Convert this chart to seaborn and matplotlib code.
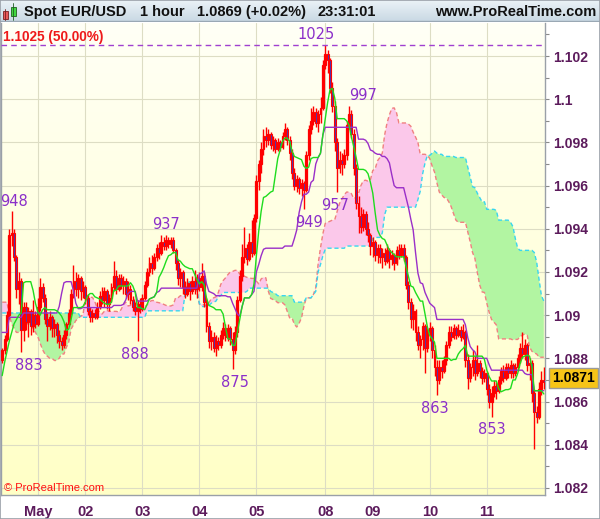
import numpy as np
import pandas as pd
import matplotlib
matplotlib.use('Agg')
import matplotlib.pyplot as plt
import seaborn as sns
from matplotlib.colors import LinearSegmentedColormap
from matplotlib.patches import Rectangle
from matplotlib.ticker import MultipleLocator, FuncFormatter

# hourly EUR/USD bars, prices in pips above 1.0800 (open = previous close)
first_open = 79
closes = [84, 89, 100, 137, 138, 127, 112, 116, 93, 104, 97, 102, 95, 100, 96, 104, 113, 108, 98, 95,
          99, 94, 96, 91, 88, 86, 91, 96, 101, 110, 116, 112, 117, 111, 113, 108, 102, 99, 101, 99,
          104, 109, 107, 111, 105, 108, 113, 118, 112, 117, 114, 116, 110, 112, 107, 104, 102, 105, 103, 108,
          114, 120, 124, 122, 127, 131, 129, 134, 132, 135, 133, 135, 130, 124, 117, 120, 113, 110, 115, 111,
          116, 112, 117, 113, 118, 106, 95, 88, 90, 85, 88, 86, 91, 94, 90, 94, 89, 84, 92, 107,
          118, 127, 131, 126, 134, 129, 145, 162, 170, 177, 183, 181, 184, 179, 181, 177, 180, 178, 183, 186,
          181, 175, 166, 160, 163, 159, 161, 158, 174, 186, 190, 194, 189, 193, 196, 216, 221, 218, 205, 197,
          180, 168, 172, 170, 174, 188, 193, 184, 168, 152, 146, 141, 147, 140, 137, 132, 134, 128, 131, 127,
          129, 125, 130, 126, 128, 124, 130, 128, 131, 127, 114, 106, 98, 102, 92, 86, 89, 95, 85, 92,
          94, 84, 76, 70, 76, 74, 79, 86, 92, 90, 94, 91, 93, 90, 92, 79, 71, 76, 79, 73,
          78, 74, 71, 73, 66, 60, 64, 67, 65, 70, 74, 71, 76, 73, 77, 73, 76, 80, 85, 82,
          86, 77, 78, 64, 55, 53, 66, 70, 69]
highs = [85, 91, 102, 140, 148, 140, 128, 120, 117, 106, 106, 104, 103, 107, 102, 108, 117, 115, 110, 101,
         102, 100, 98, 97, 93, 90, 93, 97, 103, 112, 123, 120, 119, 118, 116, 114, 110, 104, 103, 103,
         106, 111, 113, 113, 112, 110, 115, 125, 121, 119, 119, 118, 117, 116, 114, 109, 106, 107, 108, 110,
         116, 122, 127, 128, 129, 133, 134, 137, 136, 137, 136, 136, 136, 131, 126, 122, 121, 116, 117, 116,
         118, 121, 119, 120, 124, 120, 108, 97, 93, 92, 91, 90, 93, 97, 96, 96, 95, 92, 95, 109,
         121, 133, 141, 133, 138, 144, 147, 165, 172, 180, 186, 187, 186, 185, 183, 182, 182, 181, 185, 189,
         187, 183, 177, 168, 165, 164, 163, 162, 176, 188, 196, 197, 196, 195, 201, 218, 225, 223, 219, 208,
         199, 182, 176, 175, 177, 190, 197, 195, 186, 170, 155, 150, 149, 148, 143, 138, 136, 135, 133, 133,
         131, 131, 133, 131, 130, 129, 132, 133, 133, 133, 128, 116, 108, 105, 103, 95, 91, 97, 96, 94,
         97, 95, 86, 79, 79, 79, 81, 88, 95, 95, 96, 95, 96, 95, 96, 93, 82, 78, 84, 81,
         86, 79, 76, 75, 74, 68, 67, 70, 69, 72, 76, 77, 78, 78, 79, 78, 78, 82, 87, 92,
         89, 87, 80, 79, 66, 58, 69, 74, 76]
lows = [78, 82, 88, 98, 132, 125, 108, 105, 83, 88, 93, 90, 91, 92, 94, 95, 102, 106, 96, 88,
        93, 90, 90, 87, 85, 84, 85, 89, 95, 100, 108, 109, 108, 107, 108, 105, 100, 97, 97, 98,
        98, 103, 105, 104, 103, 102, 106, 111, 110, 111, 112, 110, 108, 107, 105, 102, 100, 88, 101, 102,
        107, 113, 118, 119, 121, 125, 126, 128, 130, 130, 131, 131, 129, 121, 114, 113, 110, 108, 109, 107,
        110, 110, 108, 111, 111, 104, 92, 85, 84, 83, 81, 84, 85, 89, 88, 88, 86, 75, 82, 90,
        106, 116, 124, 123, 125, 127, 128, 143, 158, 166, 174, 178, 179, 177, 176, 175, 176, 176, 177, 181,
        179, 172, 163, 158, 157, 156, 155, 149, 157, 172, 184, 188, 187, 185, 189, 195, 214, 212, 203, 194,
        176, 157, 166, 165, 168, 172, 186, 182, 165, 149, 138, 138, 139, 137, 134, 128, 127, 125, 124, 124,
        122, 123, 124, 122, 123, 121, 123, 126, 127, 125, 112, 103, 94, 93, 88, 84, 80, 84, 73, 83,
        88, 80, 72, 63, 68, 71, 73, 77, 85, 88, 89, 89, 90, 88, 89, 76, 66, 69, 72, 70,
        72, 71, 68, 69, 63, 57, 53, 62, 61, 64, 68, 69, 70, 71, 71, 71, 72, 74, 78, 80,
        79, 74, 70, 60, 38, 50, 52, 63, 66]

# indicator values at the left edge (history before the first visible bar)
tenkan_head = [72, 78, 83, 88, 92, 96, 98, 100, 101]
kijun_head = [92, 92, 92, 99, 99, 99, 99, 99, 99, 101, 101, 101, 101, 101, 101, 101, 101, 101, 101, 101,
              101, 101, 101, 101, 104, 110]
span_a_head = [106, 106, 106, 100, 96, 94, 92, 92, 93, 95, 96, 96, 95, 94, 92, 90, 87, 84, 82, 81,
               80, 80, 79, 79, 80, 82]
span_b_head = [101, 101, 101, 101, 101, 101, 101, 101, 101, 101, 101, 101, 101, 101, 101, 101, 101, 101, 101, 101,
               101, 101, 101, 101, 101, 101, 101, 101, 101, 101, 101, 101, 101, 99, 99, 99, 99, 99, 99, 99,
               99, 99, 99, 99, 99, 99, 99, 99, 99, 99, 99, 99, 99, 99, 99, 99, 99, 99, 99, 99,
               99, 102, 102, 102, 102, 102, 102, 102, 102, 102, 102, 102, 102, 102, 102, 102, 102, 110]

day_ticks = [15, 35, 59, 83, 107, 136, 156, 180, 204]
day_labels = ['May', '02', '03', '04', '05', '08', '09', '10', '11']

pivot_bars = [5, 11, 56, 69, 98, 129, 140, 132, 152, 182, 206]
pivot_values = [948, 883, 888, 937, 875, 949, 957, 1025, 997, 863, 853]
pivot_kind = ['high', 'low', 'low', 'high', 'low', 'low', 'low', 'high', 'high', 'low', 'low']

level_price = 1.1025
last_price = 1.0871


def px(v):
    return 1.08 + np.asarray(v, dtype=float) / 10000


cl = px(closes)
op = np.r_[px(first_open), cl[:-1]]
hi = pd.Series(np.maximum(px(highs), np.maximum(op, cl)))
lo = pd.Series(np.minimum(px(lows), np.minimum(op, cl)))
x = np.arange(len(cl))

# ichimoku
tenkan = (hi.rolling(9, min_periods=1).max() + lo.rolling(9, min_periods=1).min()) / 2
tenkan.iloc[:9] = px(tenkan_head)
kijun = (hi.rolling(26, min_periods=1).max() + lo.rolling(26, min_periods=1).min()) / 2
kijun.iloc[:26] = px(kijun_head)
span_a = ((tenkan + kijun) / 2).shift(26)
span_a.iloc[:26] = px(span_a_head)
span_b = ((hi.rolling(52).max() + lo.rolling(52).min()) / 2).shift(26)
span_b.iloc[:78] = px(span_b_head)

sns.set_style('white')
plt.rcParams['font.family'] = ['Liberation Sans', 'DejaVu Sans']

W, H = 600, 519
fig = plt.figure(figsize=(6, 5.19), dpi=100)
fig.patch.set_facecolor('white')

ax = fig.add_axes([1 / W, 1 - 495 / H, 544 / W, (495 - 23) / H])
ax.set_xlim(-0.5, len(cl) - 0.5)
ax.set_ylim(1.08167, 1.10353)

# yellow gradient background
bg = LinearSegmentedColormap.from_list('bg', ['#FFFFC6', '#FFFFF6'])
ax.imshow(np.linspace(0, 1, 256).reshape(-1, 1), cmap=bg, origin='lower', aspect='auto',
          extent=[0, 1, 0, 1], transform=ax.transAxes, zorder=0)

ax.set_xticks(day_ticks)
ax.set_xticklabels(day_labels)
ax.yaxis.set_major_locator(MultipleLocator(0.002))
ax.yaxis.set_minor_locator(MultipleLocator(0.001))
ax.yaxis.set_major_formatter(FuncFormatter(lambda v, p: f'{v:.3f}'.rstrip('0').rstrip('.')))
ax.yaxis.tick_right()
ax.grid(True, which='major', color='#DDDDC4', lw=0.8, zorder=0.5)
ax.set_axisbelow(True)

lab_col = '#5C1B5C'
ax.tick_params(axis='y', which='both', direction='out', length=3, color='#8A8A8A', width=0.8,
               labelsize=10, labelcolor=lab_col, pad=3)
ax.tick_params(axis='x', length=0, pad=7, labelsize=10.5, labelcolor=lab_col)
for t in ax.get_xticklabels() + ax.get_yticklabels():
    t.set_fontweight('bold')
for side in ['left', 'right', 'bottom']:
    ax.spines[side].set_color('#9AA0A8')
    ax.spines[side].set_linewidth(1)
ax.spines['top'].set_visible(False)

# cloud
ax.fill_between(x, span_a, span_b, where=span_a >= span_b, interpolate=True,
                color='#FBC8EA', lw=0, zorder=1)
ax.fill_between(x, span_a, span_b, where=span_a < span_b, interpolate=True,
                color='#B2F5A2', lw=0, zorder=1)
ax.plot(x, span_a, color='#F08080', lw=1, ls=(0, (3, 2)), zorder=2)
ax.plot(x, span_b, color='#38D6F0', lw=1, ls=(0, (3, 2)), zorder=2)

# candles
up = cl >= op
body_lo = np.minimum(op, cl)
body_h = np.abs(cl - op)
ax.vlines(x, lo, hi, color='#FF0000', lw=1, zorder=3)
ax.bar(x[up], body_h[up], bottom=body_lo[up], width=0.8, facecolor='none',
       edgecolor='#FF0000', lw=0.9, zorder=3)
ax.bar(x[~up], body_h[~up], bottom=body_lo[~up], width=0.8, facecolor='#4638B4',
       edgecolor='#FF0000', lw=0.8, zorder=3)

sns.lineplot(x=x, y=kijun.values, ax=ax, color='#9A2FC8', lw=1, zorder=4)
sns.lineplot(x=x, y=tenkan.values, ax=ax, color='#1EDC1E', lw=1, zorder=4)
ax.set_xlabel('')
ax.set_ylabel('')

# level line and its label
ax.axhline(level_price, color='#A040D0', lw=1, ls=(0, (4, 3)), zorder=5)
ax.annotate(f'{level_price:.4f} (50.00%)', xy=(0.004, level_price),
            xycoords=('axes fraction', 'data'), xytext=(0, 6), textcoords='offset points',
            ha='left', va='center', color='#EE1A1A', fontsize=9.8, fontweight='bold', zorder=6)

# pivot labels
for b, v, k in zip(pivot_bars, pivot_values, pivot_kind):
    price = 1 + v / 10000 if v > 999 else 1.09 + (v - 900) / 10000
    dy = 7.5 if k == 'high' else -9.5
    ax.annotate(str(v), xy=(b, price), xytext=(0, dy), textcoords='offset points',
                ha='center', va='center', color='#8B2FC9', fontsize=10.5,
                family='DejaVu Sans', zorder=6)

ax.text(0.006, 0.004, '© ProRealTime.com', transform=ax.transAxes, color='#FF1010',
        fontsize=8, ha='left', va='bottom', zorder=6)

# last price box
ax.annotate(f'{last_price:.4f}', xy=(1.0525, last_price), xycoords=('axes fraction', 'data'),
            ha='center', va='center', fontsize=10, fontweight='bold', color='black',
            bbox=dict(boxstyle='square,pad=0.2', fc='#F6C417', ec='#9A9A9A', lw=1),
            annotation_clip=False, zorder=6)

# header bar
axh = fig.add_axes([0, 1 - 22 / H, 1, 22 / H])
hdr = LinearSegmentedColormap.from_list('hdr', ['#EBF2F7', '#C8D8E3'])
axh.imshow(np.linspace(0, 1, 64).reshape(-1, 1), cmap=hdr, aspect='auto', extent=[0, W, 22, 0])
axh.set_xlim(0, W)
axh.set_ylim(22, 0)
axh.axis('off')
axh.add_patch(Rectangle((3, 11.5), 4.5, 7.5, fc='#E85A5A', ec='#7A2020', lw=0.6))
axh.plot([5.25, 5.25], [9, 21], color='#7A2020', lw=0.6)
axh.add_patch(Rectangle((10.5, 6.5), 5, 9.5, fc='#3FD83F', ec='#206020', lw=0.6))
axh.plot([13, 13], [3.5, 20], color='#206020', lw=0.6)
axh.axhline(21.5, color='#9AA8B4', lw=1)

ty = 1 - 12 / H
for tx, s in [(24, 'Spot EUR/USD'), (140, '1 hour'), (197, '1.0869 (+0.02%)'), (317, '23:31:01')]:
    fig.text(tx / W, ty, s, ha='left', va='center', fontsize=10.5, fontweight='bold', color='#111111')
fig.text(596 / W, ty, 'www.ProRealTime.com', ha='right', va='center', fontsize=10.5,
         fontweight='bold', color='#111111')

fig.patches.append(Rectangle((0, 0), 1, 1, transform=fig.transFigure, fill=False,
                             ec='#9AA0A8', lw=1.2))

fig.savefig('out.png', dpi=100)
